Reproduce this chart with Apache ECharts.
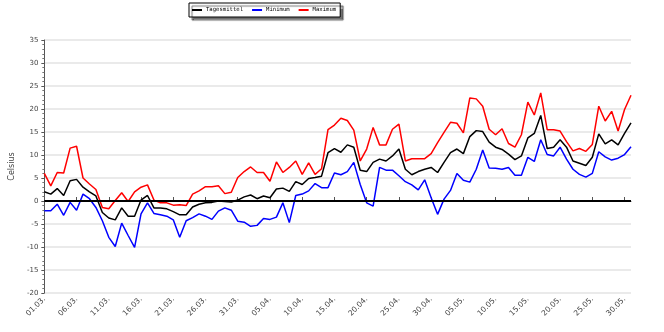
<!DOCTYPE html>
<html>
<head>
<meta charset="utf-8">
<script src="https://cdn.jsdelivr.net/npm/echarts@6/dist/echarts.min.js"></script>
<style>html,body{margin:0;padding:0;background:#fff}#c{width:664px;height:332px}</style>
</head>
<body>
<div id="c"></div>
<script>
var categories = [
"01.03.","02.03.","03.03.","04.03.","05.03.","06.03.","07.03.","08.03.","09.03.","10.03.",
"11.03.","12.03.","13.03.","14.03.","15.03.","16.03.","17.03.","18.03.","19.03.","20.03.",
"21.03.","22.03.","23.03.","24.03.","25.03.","26.03.","27.03.","28.03.","29.03.","30.03.","31.03.",
"01.04.","02.04.","03.04.","04.04.","05.04.","06.04.","07.04.","08.04.","09.04.","10.04.",
"11.04.","12.04.","13.04.","14.04.","15.04.","16.04.","17.04.","18.04.","19.04.","20.04.",
"21.04.","22.04.","23.04.","24.04.","25.04.","26.04.","27.04.","28.04.","29.04.","30.04.",
"01.05.","02.05.","03.05.","04.05.","05.05.","06.05.","07.05.","08.05.","09.05.","10.05.",
"11.05.","12.05.","13.05.","14.05.","15.05.","16.05.","17.05.","18.05.","19.05.","20.05.",
"21.05.","22.05.","23.05.","24.05.","25.05.","26.05.","27.05.","28.05.","29.05.","30.05.","31.05."
];
var tagesmittel = [
2.0,1.5,2.7,1.2,4.4,4.7,3.0,2.0,1.1,-2.5,
-3.7,-4.1,-1.5,-3.3,-3.3,0.2,1.2,-1.5,-1.5,-1.7,
-2.3,-3.0,-3.0,-1.3,-0.7,-0.4,-0.3,0.0,-0.1,-0.2,
0.2,0.9,1.3,0.5,1.1,0.7,2.6,2.8,2.1,4.2,
3.6,4.9,5.1,5.4,10.5,11.4,10.6,12.2,11.7,6.7,
6.4,8.4,9.1,8.7,9.8,11.3,6.9,5.7,6.4,6.9,
7.3,6.2,8.4,10.5,11.3,10.3,14.0,15.3,15.1,12.8,
11.7,11.2,10.2,9.0,9.8,13.7,14.7,18.6,11.4,11.7,
13.3,11.7,8.7,8.2,7.7,9.5,14.6,12.4,13.3,12.2,
14.7,17.0
];
var minimum = [
-2.1,-2.1,-0.7,-3.1,-0.3,-2.0,1.5,0.5,-1.4,-4.3,
-7.9,-9.9,-4.8,-7.5,-10.1,-2.8,-0.4,-2.7,-3.0,-3.3,
-4.1,-7.9,-4.3,-3.6,-2.8,-3.3,-4.0,-2.2,-1.5,-2.0,
-4.4,-4.6,-5.5,-5.3,-3.8,-4.0,-3.5,-0.4,-4.7,1.2,
1.5,2.2,3.8,2.9,2.9,6.1,5.7,6.4,8.4,3.6,
-0.4,-1.1,7.3,6.7,6.7,5.5,4.2,3.5,2.4,4.6,
0.7,-2.9,0.4,2.3,6.0,4.5,4.1,6.9,11.1,7.2,
7.1,6.9,7.3,5.6,5.6,9.5,8.6,13.3,10.1,9.8,
11.7,9.1,6.9,5.8,5.2,6.0,10.7,9.6,8.9,9.3,
10.1,11.8
];
var maximum = [
6.0,3.3,6.2,6.1,11.5,11.9,5.0,3.7,2.5,-1.4,
-1.7,0.1,1.8,-0.1,2.0,3.0,3.5,0.2,-0.4,-0.4,
-0.9,-0.8,-1.0,1.5,2.2,3.1,3.1,3.3,1.6,1.9,
5.1,6.4,7.4,6.2,6.2,4.3,8.5,6.2,7.3,8.7,
5.8,8.3,5.8,7.0,15.5,16.5,18.0,17.5,15.4,8.7,
11.3,16.0,12.2,12.2,15.6,16.7,8.7,9.2,9.2,9.2,
10.3,12.7,14.9,17.1,16.9,14.8,22.4,22.2,20.6,15.6,
14.4,15.7,12.5,11.7,14.4,21.5,18.7,23.5,15.5,15.5,
15.2,12.9,10.9,11.4,10.8,12.3,20.6,17.4,19.5,15.2,
19.9,23.0
];
var seriesNames = ["Tagesmittel","Minimum","Maximum"];

var chart = echarts.init(document.getElementById('c'), null, {renderer:'canvas'});
var lineW = 1.5;
chart.setOption({
  animation: false,
  backgroundColor: '#fff',
  grid: {left: 34, right: 33, top: 40, bottom: 39, containLabel: false},
  legend: {
    data: seriesNames,
    left: 189, top: 3,
    icon: 'rect', itemWidth: 10, itemHeight: 2, itemGap: 9,
    padding: [4, 4, 4, 3],
    borderColor: '#000', borderWidth: 1, backgroundColor: '#fff',
    shadowColor: 'rgba(0,0,0,0.55)', shadowOffsetX: 3, shadowOffsetY: 3, shadowBlur: 1,
    textStyle: {fontFamily: 'DejaVu Sans Mono', fontSize: 5.6, color: '#000', padding: [0,0,0,-1]}
  },
  xAxis: {
    type: 'category', data: categories, boundaryGap: false,
    axisLine: {lineStyle: {color: '#555', width: 1}},
    axisTick: {interval: 4, inside: true, length: 4, lineStyle: {color: '#555'}},
    axisLabel: {interval: 4, rotate: 45, fontSize: 7.5, color: '#444', margin: 5, fontFamily: 'DejaVu Sans'},
    splitLine: {show: false}
  },
  yAxis: {
    type: 'value', min: -20, max: 35, interval: 5,
    name: 'Celsius', nameLocation: 'middle', nameGap: 20, nameRotate: 90,
    nameTextStyle: {fontSize: 8, color: '#444', fontFamily: 'DejaVu Sans'},
    axisLine: {show: true, lineStyle: {color: '#555', width: 1}},
    axisTick: {show: true, length: 3, lineStyle: {color: '#555'}},
    minorTick: {show: true, splitNumber: 5, length: 2, lineStyle: {color: '#777'}},
    axisLabel: {fontSize: 7, color: '#444', margin: 6, fontFamily: 'DejaVu Sans'},
    splitLine: {show: true, lineStyle: {color: '#e3e3e3', width: 1.5}}
  },
  series: [
    {name: seriesNames[0], type: 'line', data: tagesmittel, showSymbol: false, color: '#000',
     lineStyle: {width: lineW, color: '#000'}, z: 4,
     markLine: {silent: true, symbol: ['none','none'], label: {show: false},
       lineStyle: {color: '#000', width: 2, type: 'solid'}, data: [{yAxis: 0}]}},
    {name: seriesNames[1], type: 'line', data: minimum, showSymbol: false, color: '#0000ff',
     lineStyle: {width: lineW, color: '#0000ff'}, z: 3},
    {name: seriesNames[2], type: 'line', data: maximum, showSymbol: false, color: '#ff0000',
     lineStyle: {width: lineW, color: '#ff0000'}, z: 3}
  ]
});
</script>
</body>
</html>
